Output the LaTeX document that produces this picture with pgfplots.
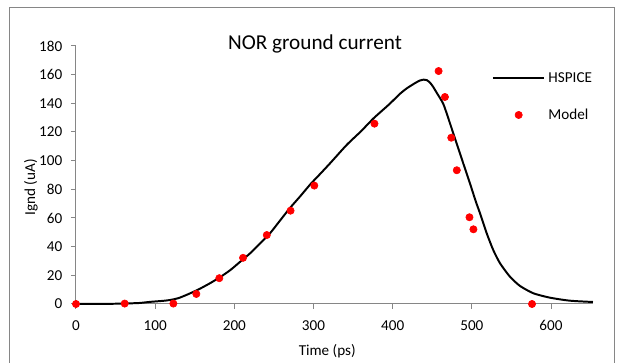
\documentclass[border=0pt]{standalone}
\usepackage{pgfplots}
\pgfplotsset{compat=1.18}
\usepackage{fontspec}
\setmainfont{Carlito}
\definecolor{axgray}{RGB}{134,134,134}
\pgfplotsset{
  legline/.style={legend image code/.code={\draw[##1] (0pt,0pt) -- (34pt,0pt);}},
  legmark/.style={legend image code/.code={\draw[mark repeat=2,mark phase=2,##1] plot coordinates {(0pt,0pt) (17pt,0pt) (34pt,0pt)};}},
}
\begin{document}
\begin{tikzpicture}
\useasboundingbox (-50.16pt,-38.94pt) rectangle (358.38pt,200.64pt);
\draw[axgray, line width=0.66pt] (-44.2pt,-60pt) -- (-44.2pt,195.4pt) -- (355.1pt,195.4pt) -- (355.1pt,-60pt);
\begin{axis}[
  at={(0,0)}, anchor=origin,
  scale only axis,
  width=341.2pt, height=170.3pt,
  xmin=0, xmax=653, ymin=0, ymax=180,
  axis x line=bottom, axis y line=left,
  axis line style={axgray, line width=0.66pt, -},
  xtick={0,100,...,600}, ytick={0,20,...,180},
  tick align=outside, major tick length=3.3pt,
  tick style={axgray, line width=0.66pt},
  /pgf/number format/assume math mode=true,
  tick label style={font=\fontsize{10}{12}\selectfont},
  yticklabel style={anchor=east, inner sep=0pt, xshift=-5.6pt},
  xticklabel style={anchor=north, inner sep=0pt, yshift=-7.2pt},
  title={NOR ground current},
  title style={at={(rel axis cs:0.4623,0.987)}, anchor=base, yshift=-5.9pt, font=\fontsize{14}{17}\selectfont},
  xlabel={Time (ps)},
  xlabel style={at={(rel axis cs:0.486,0)}, anchor=center, yshift=-31pt, font=\fontsize{10}{12}\selectfont},
  ylabel={Ignd (uA)},
  ylabel style={at={(rel axis cs:0,0.4516)}, anchor=center, yshift=29.7pt, font=\fontsize{10}{12}\selectfont},
  legend style={at={(axis cs:525,164)}, anchor=north west, draw=none, fill=none,
    font=\fontsize{10}{12}\selectfont, row sep=12pt, inner sep=0pt},
  legend cell align=left,
  clip=false,
]
\addplot[black, line width=1.3pt, smooth, tension=0.4, legline]
coordinates {
(0,0) (20,0.05) (40,0.1) (60,0.3) (80,0.7) (94,1.5) (110,2.2) (119,2.8) (130,4.2)
(144,7.4) (156,10.5) (169,14.4) (182,18.7) (195,23.7) (207,29.3) (220,35.4) (232,42)
(245,49.3) (257,57.7) (270,66.8) (283,75) (296,83.5) (308,90.5) (321,98.2) (342,111)
(360,120.5) (376,129.6) (395,139) (410,147) (418,150.5) (428,154) (434,155.8) (439,156.5)
(443,156.2) (447,154.5) (451,151.6) (456,147) (464,139.5) (472.4,126) (480.8,112)
(489.2,98) (497.7,84) (505,71.5) (510.3,63.3) (518.8,49.3) (527,37.7) (535.6,28.4)
(548.2,19) (560.8,12.6) (577.6,7.5) (598.7,4.4) (624,2.3) (653,1.4)
};
\addlegendentry{HSPICE}
\addplot[only marks, mark=*, mark size=2.4pt, color=red, fill=red, legmark]
coordinates {
(0,0) (61.5,0.3) (123,0.3) (152,7) (181,18) (211,32.2) (241,48.1) (271,65.1) (301,82.6)
(377,125.8) (458,162.5) (466,144.4) (474,116) (481,93.3) (497,60.5) (502,52.1) (576,0)
};
\addlegendentry{Model}
\end{axis}
\end{tikzpicture}
\end{document}
